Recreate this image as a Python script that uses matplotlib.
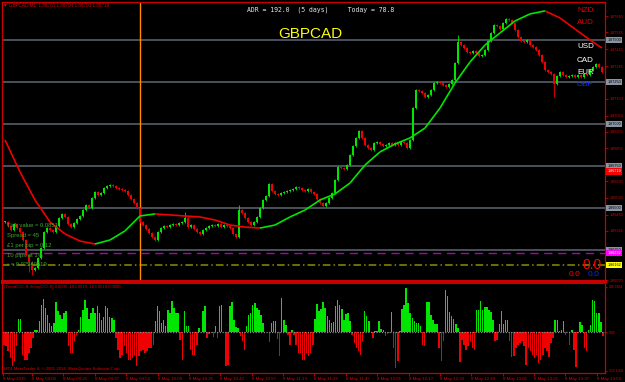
import matplotlib
matplotlib.use("Agg")
import matplotlib.pyplot as plt
import numpy as np
from matplotlib.collections import LineCollection
import matplotlib.transforms as mtransforms

plt.rcParams['font.family'] = ['Liberation Sans', 'DejaVu Sans']

W, H = 625, 382

# GBPCAD M1 closes (one per candle, read left to right)
closes = [
    1.86417, 1.86393, 1.86369, 1.86405, 1.86381, 1.86358, 1.86310, 1.86221, 1.86179, 1.86131,
    1.86143, 1.86203, 1.86262, 1.86358, 1.86381, 1.86369, 1.86358, 1.86393, 1.86441, 1.86465,
    1.86447, 1.86405, 1.86387, 1.86411, 1.86435, 1.86453, 1.86488, 1.86518, 1.86500, 1.86560,
    1.86596, 1.86578, 1.86590, 1.86619, 1.86631, 1.86637, 1.86631, 1.86619, 1.86613, 1.86608,
    1.86602, 1.86578, 1.86554, 1.86530, 1.86500, 1.86417, 1.86399, 1.86376, 1.86352, 1.86328,
    1.86310, 1.86358, 1.86381, 1.86393, 1.86387, 1.86399, 1.86405, 1.86399, 1.86411, 1.86417,
    1.86441, 1.86387, 1.86399, 1.86376, 1.86358, 1.86346, 1.86369, 1.86381, 1.86393, 1.86399,
    1.86393, 1.86405, 1.86387, 1.86399, 1.86393, 1.86381, 1.86346, 1.86328, 1.86488, 1.86471,
    1.86441, 1.86417, 1.86399, 1.86417, 1.86447, 1.86500, 1.86548, 1.86572, 1.86643, 1.86602,
    1.86584, 1.86578, 1.86590, 1.86596, 1.86602, 1.86608, 1.86613, 1.86625, 1.86619, 1.86608,
    1.86602, 1.86613, 1.86596, 1.86584, 1.86554, 1.86530, 1.86512, 1.86530, 1.86560, 1.86590,
    1.86667, 1.86744, 1.86738, 1.86732, 1.86756, 1.86816, 1.86869, 1.86917, 1.86959, 1.86917,
    1.86875, 1.86857, 1.86845, 1.86887, 1.86893, 1.86881, 1.86869, 1.86875, 1.86887, 1.86875,
    1.86887, 1.86875, 1.86893, 1.86887, 1.86857, 1.86905, 1.87095, 1.87203, 1.87197, 1.87185,
    1.87161, 1.87173, 1.87203, 1.87244, 1.87250, 1.87244, 1.87232, 1.87220, 1.87238, 1.87262,
    1.87363, 1.87488, 1.87470, 1.87452, 1.87429, 1.87423, 1.87435, 1.87423, 1.87405, 1.87411,
    1.87441, 1.87494, 1.87542, 1.87589, 1.87583, 1.87565, 1.87601, 1.87625, 1.87619, 1.87601,
    1.87560, 1.87518, 1.87494, 1.87488, 1.87500, 1.87470, 1.87458, 1.87441, 1.87411, 1.87369,
    1.87322, 1.87310, 1.87298, 1.87238, 1.87286, 1.87310, 1.87292, 1.87280, 1.87286, 1.87292,
    1.87280, 1.87292, 1.87280, 1.87298, 1.87292, 1.87322, 1.87339, 1.87357, 1.87339, 1.87310,
]
extra_highs = {60: 1.86477, 78: 1.86518, 151: 1.87530}
extra_lows = {8: 1.86120, 9: 1.86102, 183: 1.87161}

# moving average, sampled every 5th candle plus the last one
ma_values = [
    1.86905, 1.86715, 1.86548, 1.86417, 1.86346, 1.86304, 1.86286, 1.86310, 1.86364, 1.86453,
    1.86465, 1.86459, 1.86453, 1.86447, 1.86429, 1.86399, 1.86387, 1.86381, 1.86399, 1.86447,
    1.86488, 1.86548, 1.86584, 1.86649, 1.86756, 1.86834, 1.86881, 1.86917, 1.86976, 1.87095,
    1.87244, 1.87369, 1.87470, 1.87542, 1.87613, 1.87655, 1.87673, 1.87631, 1.87565, 1.87500,
    1.87452,
]

# TrendCCI histogram
hist_values = [
    -88, -72, -77, -105, -143, -187, -160, -77, 72, 72,
    -127, -154, -154, -116, -88, -33, 11, 11,
    61, 149, 182, 132, 94, 50, 33, 50, 165, 116, 94, 72, 105, 116,
    -77, -116, -116, -50, -17,
    11, 83, 121, 176, 132, 72, 105, 132, 105, 143, 105, 66, 83, 143, 132, 83, 77, 66,
    -33, -99, -143, -127, -77, -116, -154, -154, -143, -127, -187, -132, -105, -99, -116, -105, -88, -88, -72,
    61, 143, 116, 50, 66, 33, 121, 105, 171, 132, 105, 105,
    -44, -154, 116, 33, 33, -99, -127, -127, -72, 22, 0, 116, 143,
    -33, -11, -6, -28, 33, -33,
    143, 149, 0, -187, -182, 143, 165, 66, 28, 22,
    -22, -50, -99, 33, 94, 105, 149, 160, 132, 121, 94, 50, 0, 0, -55,
    50, 61, 61, -39, -132, 187, 66, 39,
    -17, -72, 11, -17, -72, -116, -116, -154, -154,
    -116, -132, -116, -72,
    72, 154, 116, 127, 165, 132, 88, 66, 50, 55,
    143, 176, 149, 127, 66, 99, 105, 61,
    -17, -61, -88, -105, -127, -50, 116, 88, 61, 0,
    -33, 6, 6, 61, 17, 11, -22, -11, -6, 110,
    -88, -198, -160,
    6, 127, 149, 242, 160, 105, 77, 61, 50, 50, 33,
    -72, -77, 165, 165, 94, 66, 44, 44, -88, -160, -50,
    231, 198, 110, 88, 72, 44, 22,
    -165, -44, -72, -99, -77, -50, -88, -99,
    121, 121, 171, 121, 138, 138, 121, 110, 66,
    -50, -44, 44, 116, 44, 66, 66,
    -50, -138, -132, -88, -72, -61, -50, -77, -182, -88, -105, -127, -143, -127, -171, -154,
    -127, -88, -105, -138, -61, -33,
    66, 66, 6, 11, 61,
    -17, 0, -72, 11, -99, -193, -6, 55, 39, -88, -105,
    11, 39, 176, 171, 105, 105, 55, -22,
]

price_ticks = [1.87640, 1.87545, 1.87445, 1.87345, 1.87250, 1.87150, 1.87050, 1.86955, 1.86855,
               1.86755, 1.86660, 1.86560, 1.86460, 1.86365, 1.86265, 1.86170, 1.86070]
level_lines = [1.87500, 1.87250, 1.87000, 1.86750, 1.86500, 1.86250]
bid_price = 1.86719
magenta_level = 1.86232
yellow_level = 1.86162

time_labels = ['09:05', '09:21', '09:37', '09:53', '10:09', '10:25', '10:41', '10:57', '11:13', '11:29',
               '11:45', '12:01', '12:17', '12:33', '12:49', '13:05', '13:21', '13:37', '13:53']
first_bar_minute = 8 * 60 + 51.2
minutes_per_bar = 1.53

hist_ticks = [249.3264, 0.0, -212.1306]

# colours
BG = 'black'
FRAME = '#c80000'
LABEL = '#e00000'
BULL = '#00e600'
BEAR = '#f00000'
GRID = '#5f6674'


def fx(px):
    return px / W


def fy(py):
    return 1 - py / H


fig = plt.figure(figsize=(W / 100, H / 100), dpi=100, facecolor=BG)
ax = fig.add_axes([fx(2), fy(281), (605 - 2) / W, (281 - 2) / H], facecolor=BG)
ax2 = fig.add_axes([fx(2), fy(373), (605 - 2) / W, (373 - 283) / H], facecolor=BG)

for a in (ax, ax2):
    for s in a.spines.values():
        s.set_color(FRAME)
        s.set_linewidth(0.9)
ax.spines['bottom'].set_linewidth(2.2)
ax2.spines['top'].set_linewidth(1.4)

# ---- candles ----
n = len(closes)
idx = np.arange(n)
c = np.array(closes)
o = np.concatenate([[closes[0]], c[:-1]])
colors = np.where(c >= o, BULL, BEAR)
wick = 0.00008
hi = np.maximum(o, c) + wick
lo = np.minimum(o, c) - wick
for k, v in extra_highs.items():
    hi[k] = v
for k, v in extra_lows.items():
    lo[k] = v
ax.vlines(idx, lo, hi, colors=colors, lw=0.6, zorder=3)
body = np.maximum(np.abs(c - o), 0.00004)
ax.bar(idx, body, bottom=np.minimum(o, c), width=0.6, color=colors, lw=0, zorder=3)

# ---- levels ----
for lvl in level_lines:
    ax.axhline(lvl, color=GRID, lw=1.1, zorder=1)
ax.axhline(magenta_level, color='#b000b0', lw=1.0, ls=(0, (6, 4)), zorder=1)
ax.axhline(yellow_level, color='#8c8c00', lw=1.1, ls=(0, (5, 2, 1, 2)), zorder=1)
ax.axvline(45, color='#ff8c00', lw=1.0, zorder=2)

# ---- slope-coloured MA ----
ma_x = list(range(0, 200, 5)) + [199]
pts = np.column_stack([ma_x, ma_values])
segs = np.stack([pts[:-1], pts[1:]], axis=1)
seg_cols = [BULL if b >= a else BEAR for a, b in zip(ma_values[:-1], ma_values[1:])]
ax.add_collection(LineCollection(segs, colors=seg_cols, linewidths=1.2, zorder=4))

ax.set_xlim(-1, 200)
ax.set_ylim(1.86066, 1.87726)
ax.set_xticks([])
ax.yaxis.tick_right()

# boxes on the right scale hide the plain labels next to them
box_items = [(lvl, f'{lvl:.5f}', '#8a94a2', 'black') for lvl in level_lines]
box_items += [(bid_price, f'{bid_price:.5f}', '#ff0000', 'white'),
              (magenta_level, f'{magenta_level:.5f}', '#ff00ff', 'white'),
              (yellow_level, f'{yellow_level:.5f}', '#ffff00', 'black')]
shown_ticks = [p for p in price_ticks if min(abs(p - b[0]) for b in box_items) > 0.00028]
ax.set_yticks(shown_ticks)
ax.set_yticklabels([f'{p:.5f}' for p in shown_ticks])
ax.tick_params(axis='y', colors=FRAME, labelcolor=LABEL, labelsize=2.7, length=2, width=0.6, pad=1.5)

trans = mtransforms.blended_transform_factory(ax.transAxes, ax.transData)
for lvl, txt, fc, tc in box_items:
    ax.text(1.004, lvl, txt, transform=trans, fontsize=2.7, color=tc, va='center', ha='left',
            bbox=dict(boxstyle='square,pad=0.35', fc=fc, ec='none'), clip_on=False, zorder=6)

# ---- indicator ----
hx = np.linspace(-1, 199.3, len(hist_values))
hv = np.array(hist_values)
ax2.bar(hx, hv, width=0.5, color=np.where(hv >= 0, BULL, BEAR), lw=0)
ax2.axhline(0, color='#8a8a8a', lw=0.9, ls=(0, (1, 1.2)))
ax2.set_xlim(-1, 200)
ax2.set_ylim(-225.5, 269.5)
ax2.yaxis.tick_right()
ax2.set_yticks(hist_ticks)
ax2.set_yticklabels(['249.3264', '0.00', '-212.1306'])
ax2.tick_params(axis='y', colors=FRAME, labelcolor=LABEL, labelsize=2.4, length=1.5, width=0.6, pad=1)

tick_pos = [-0.8]
for t in time_labels:
    hh, mm = t.split(':')
    tick_pos.append((int(hh) * 60 + int(mm) - first_bar_minute) / minutes_per_bar)
ax2.set_xticks(tick_pos)
ax2.set_xticklabels(['8 May 2015'] + ['8 May ' + t for t in time_labels], ha='left')
ax2.tick_params(axis='x', colors=FRAME, labelcolor=LABEL, labelsize=3.2, length=2, width=0.6, pad=1)

# ---- overlay texts ----
fig.text(fx(3), fy(5), '\u25bc GBPCAD,M1  1.86781 1.86704 1.86703 1.86719', color=LABEL, fontsize=3.3, va='center')
fig.text(fx(247), fy(10), 'ADR = 192.0  (5 days)     Today = 78.8', color='#e6e6e6', fontsize=4.7,
         family='DejaVu Sans Mono', va='center')
fig.text(fx(310), fy(34), 'GBPCAD', color='#ffff00', fontsize=11, ha='center', va='center')

currencies = [('NZD', 11, '#e00000'), ('AUD', 23, '#e00000'), ('USD', 47, 'white'),
              ('CAD', 60, 'white'), ('EUR', 72, 'white'), ('GBP', 84, '#1030ff')]
for name, ypx, col in currencies:
    fig.text(fx(577), fy(ypx), name, color=col, fontsize=5.8, va='center', ha='left')

info_lines = ['Tick value = 0.0851', 'Spread = 45', '\u00a31 per pip = 0.12', '10 pips at 1%', '\u2022 = 0.02540319']
for i, line in enumerate(info_lines):
    fig.text(fx(7), fy(225 + 10 * i), line, color='#3fa52a', fontsize=4.2, va='center')

fig.text(fx(592), fy(265), '0.0', color='#ff0000', fontsize=10, ha='center', va='center')
fig.text(fx(575), fy(274), '0.0', color='#ff0000', fontsize=6, ha='center', va='center')
fig.text(fx(594), fy(274), '0.0', color='#0030ff', fontsize=6, ha='center', va='center')

fig.text(fx(4), fy(287), '(TrendCCI: 8, EntryCCI: 0) 0.0000 -163.0519 -163.0519 0.0000',
         color=LABEL, fontsize=3.1, va='center')
fig.text(fx(4), fy(369), 'MT4 MetaTrader 4, \u00a9 2001-2014, MetaQuotes Software Corp.',
         color=LABEL, fontsize=3.1, va='center')

fig.savefig('out.png', dpi=100, facecolor=BG)
